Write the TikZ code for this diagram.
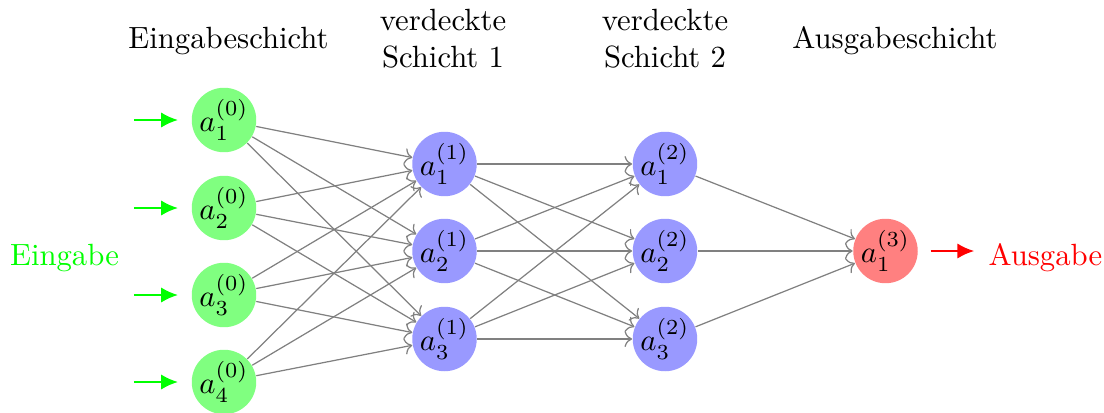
\documentclass[tikz,border=0pt]{standalone}
\usetikzlibrary{arrows.meta}
\begin{document}
\begin{tikzpicture}[x=0.011442cm,y=-0.011442cm,
  neuron/.style={circle,minimum size=0.738cm,inner sep=0pt},
  inneuron/.style={neuron,fill=green!50},
  hidneuron/.style={neuron,fill=blue!40},
  outneuron/.style={neuron,fill=red!50},
  edge/.style={->,gray,draw},
  inarrow/.style={-{Latex[length=5.5pt,width=5pt]},green,thick,shorten >=0.15cm},
  outarrow/.style={-{Latex[length=5.5pt,width=5pt]},red,thick,shorten <=0.14cm},
  header/.style={align=center}]
\useasboundingbox (0,0) rectangle (1104,412);
% input layer
\node[inneuron] (I1) at (224,120) {$a_1^{(0)}$};
\node[inneuron] (I2) at (224,208) {$a_2^{(0)}$};
\node[inneuron] (I3) at (224,295) {$a_3^{(0)}$};
\node[inneuron] (I4) at (224,382) {$a_4^{(0)}$};
% hidden layer 1
\node[hidneuron] (H1) at (444.5,164) {$a_1^{(1)}$};
\node[hidneuron] (H2) at (444.5,251) {$a_2^{(1)}$};
\node[hidneuron] (H3) at (444.5,339) {$a_3^{(1)}$};
% hidden layer 2
\node[hidneuron] (G1) at (665,164) {$a_1^{(2)}$};
\node[hidneuron] (G2) at (665,251) {$a_2^{(2)}$};
\node[hidneuron] (G3) at (665,339) {$a_3^{(2)}$};
% output
\node[outneuron] (O) at (885.5,251) {$a_1^{(3)}$};
% input arrows
\foreach \i in {1,...,4}{
  \coordinate (S\i) at ([xshift=-0.655cm]I\i.west);
  \draw[inarrow] (S\i) -- (I\i);
}
\node[green,anchor=base] (Ein) at (64.5,265) {Eingabe};
% output arrow
\coordinate (E) at ([xshift=0.64cm]O.east);
\draw[outarrow] (O) -- (E);
\node[red,anchor=base west,inner sep=0pt] (Aus) at (988,265) {Ausgabe};
% connections
\foreach \s in {1,...,4}
  \foreach \t in {1,2,3}
    \draw[edge] (I\s) -- (H\t);
\foreach \s in {1,2,3}
  \foreach \t in {1,2,3}
    \draw[edge] (H\s) -- (G\t);
\foreach \s in {1,2,3}
  \draw[edge] (G\s) -- (O);
% headers
\node[anchor=base] (L0) at (228.5,48.3) {Eingabeschicht};
\node[header] (L1) at (443,39) {verdeckte\\Schicht 1};
\node[header] (L2) at (665,39) {verdeckte\\Schicht 2};
\node[anchor=base] (L3) at (895,48.3) {Ausgabeschicht};
\end{tikzpicture}
\end{document}
